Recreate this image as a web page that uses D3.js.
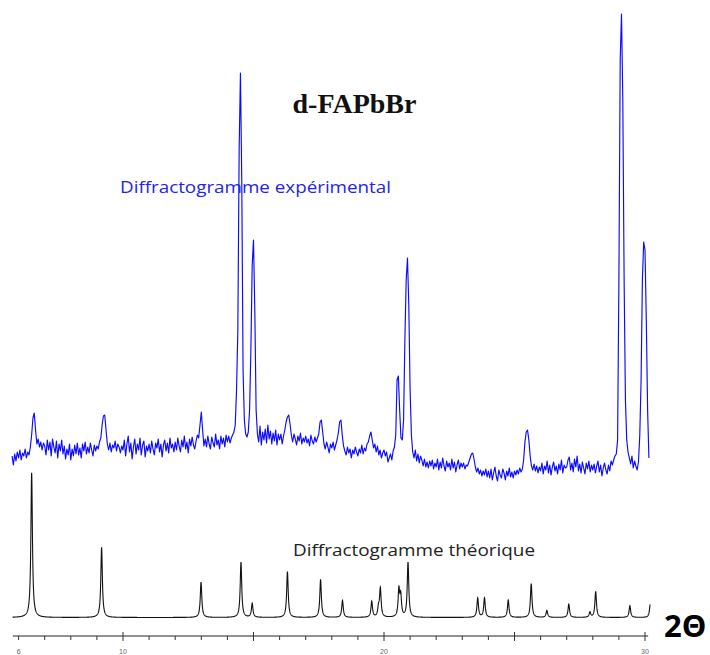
<!DOCTYPE html>
<html><head><meta charset="utf-8">
<script src="https://cdn.jsdelivr.net/npm/d3@7"></script>
<style>html,body{margin:0;padding:0;background:#fff;overflow:hidden}</style>
</head><body><svg id="c" width="710" height="655"></svg>
<script>
// ---------- DATA ----------
// Experimental diffractogram: intensities (a.u.) sampled every 0.05° starting at 5.75° 2θ
const expStart = 5.75, expStep = 0.05;
const expIntensity = [
  24,15,26,19,28,
  22,30,20,27,24,31,22,28,25,33,45,62,67,50,36,41,33,38,30,37,
  34,25,40,30,38,24,41,33,27,39,22,36,29,40,26,34,21,31,25,36,
  20,31,24,35,26,37,25,32,22,36,29,38,26,33,27,37,30,24,35,29,
  34,31,38,42,55,64,65,50,36,30,37,28,35,32,39,29,36,33,27,34,
  30,40,24,36,44,28,37,21,33,41,26,36,30,42,25,35,39,23,34,29,
  36,27,39,31,25,37,32,41,28,36,23,35,40,29,37,27,42,32,36,28,
  38,30,42,34,28,40,33,44,31,38,27,41,34,43,35,31,39,45,42,55,
  68,50,34,41,33,44,36,31,43,37,33,46,35,40,31,44,36,42,33,45,
  38,44,37,42,45,48,55,90,150,330,407,300,110,60,46,43,48,70,130,215,
  240,170,70,46,38,54,35,48,40,51,37,55,41,49,36,47,39,50,35,46,
  40,46,36,44,50,58,63,65,56,45,38,46,41,35,44,39,47,36,42,38,
  44,37,41,34,45,39,36,43,38,42,46,58,60,48,36,31,38,33,27,36,
  32,38,30,35,40,47,58,60,45,34,29,25,33,27,31,22,30,26,33,28,
  24,31,27,35,26,32,29,36,38,44,48,40,32,36,28,34,25,30,22,27,
  30,24,28,18,22,26,20,29,33,45,100,104,70,42,40,60,140,200,222,175,
  90,45,28,22,30,19,26,17,24,20,14,21,13,18,12,19,14,20,11,17,
  13,21,10,18,12,22,14,9,19,13,17,10,21,12,18,8,15,20,11,17,
  13,17,11,15,14,18,22,26,27,21,13,8,12,6,10,4,9,5,11,3,
  9,2,11,0,7,13,4,-1,10,5,2,11,7,0,9,4,12,3,8,2,
  9,5,10,6,12,8,11,20,38,48,50,40,24,14,10,16,9,14,7,13,
  9,17,6,14,10,19,7,15,5,13,18,9,14,6,16,10,20,7,15,12,
  13,20,23,10,17,8,21,13,24,9,16,7,18,12,6,17,11,19,8,15,
  10,16,7,14,19,8,15,4,12,17,10,6,15,9,19,15,20,24,26,40,
  200,420,466,380,200,80,40,28,22,16,24,12,19,14,10,18,45,100,200,238,
  230,160,70,22
];
// Theoretical diffractogram: peak positions (° 2θ) and relative intensities (%)
const thPeakPos = [6.50, 9.18, 12.99, 14.52, 14.95, 16.30, 17.57, 18.41, 19.53, 19.79, 19.86,
                   20.57, 20.64, 20.92, 23.59, 23.85, 24.76, 25.64, 26.24, 27.08, 27.89, 28.11, 29.42, 30.20];
const thPeakInt = [100, 48.4, 24.4, 38.1, 9.6, 31.7, 26.2, 11.7, 11.0, 6.0, 19.6,
                   18.6, 14.0, 37.9, 13.4, 13.4, 12.0, 23.4, 4.8, 9.2, 3.6, 18.0, 8.1, 9.0];
const thRange = [5.77, 30.20];
const thPeakHalfWidth = 0.035;
const axisTicks = d3.range(6, 31);
const majorTicks = [10, 15, 20, 25, 30];
const tickLabels = [6, 10, 20, 30];
const titleText = "d-FAPbBr";
const expLabel = "Diffractogramme expérimental";
const thLabel = "Diffractogramme théorique";
const axisTitle = "2Θ";

// ---------- CHART ----------
const svg = d3.select("#c");
const x = d3.scaleLinear().domain([6, 30]).range([18.6, 645]);
const yExp = d3.scaleLinear().domain([0, 466]).range([480, 14]);
const yTh = d3.scaleLinear().domain([0, 100]).range([617.5, 472.7]);

// experimental
const expData = expIntensity.map((v, i) => [expStart + i * expStep, v]);
svg.append("path")
  .datum(expData)
  .attr("fill", "none")
  .attr("stroke", "#0a0aff")
  .attr("stroke-width", 1.15)
  .attr("stroke-linejoin", "round")
  .attr("d", d3.line().x(d => x(d[0])).y(d => yExp(d[1])));

// theoretical (peak list rendered with narrow Lorentzian profiles)
const thGrid = d3.range(thRange[0], thRange[1] + 1e-9, 0.005);
const thData = thGrid.map(t => {
  let s = 0;
  thPeakPos.forEach((p, k) => { const u = (t - p) / thPeakHalfWidth; s += thPeakInt[k] / (1 + u * u); });
  return [t, s];
});
svg.append("path")
  .datum(thData)
  .attr("fill", "none")
  .attr("stroke", "#111")
  .attr("stroke-width", 1.1)
  .attr("d", d3.line().x(d => x(d[0])).y(d => yTh(d[1])));

// axis
const axisY = 636;
const ax = svg.append("g");
ax.append("line").attr("x1", x(5.78)).attr("x2", x(30.12)).attr("y1", axisY).attr("y2", axisY)
  .attr("stroke", "#222").attr("stroke-width", 1);
ax.selectAll("line.t").data(axisTicks).join("line").attr("class", "t")
  .attr("x1", d => x(d)).attr("x2", d => x(d))
  .attr("y1", d => majorTicks.includes(d) ? axisY - 4 : axisY)
  .attr("y2", d => majorTicks.includes(d) ? axisY + 5 : axisY + 4)
  .attr("stroke", "#333").attr("stroke-width", 1);
ax.selectAll("text").data(tickLabels).join("text")
  .attr("x", d => x(d)).attr("y", 654)
  .attr("text-anchor", "middle")
  .attr("font-family", "Liberation Sans, Arial, sans-serif")
  .attr("font-size", 7).attr("fill", "#666")
  .text(d => d);

// texts
svg.append("text").attr("x", 354.5).attr("y", 113).attr("text-anchor", "middle")
  .attr("font-family", "Liberation Serif, Times New Roman, serif").attr("font-weight", "bold")
  .attr("font-size", 28).attr("fill", "#111").text(titleText);
svg.append("text").attr("x", 120).attr("y", 193)
  .attr("font-family", "Open Sans, Noto Sans, sans-serif").attr("font-size", 17)
  .attr("textLength", 271).attr("lengthAdjust", "spacingAndGlyphs")
  .attr("fill", "#2323ee").text(expLabel);
svg.append("text").attr("x", 293).attr("y", 556)
  .attr("font-family", "Open Sans, Noto Sans, sans-serif").attr("font-size", 17)
  .attr("textLength", 242).attr("lengthAdjust", "spacingAndGlyphs")
  .attr("fill", "#222").text(thLabel);
svg.append("text").attr("x", 664).attr("y", 637)
  .attr("font-family", "Open Sans, Noto Sans, sans-serif").attr("font-weight", "bold")
  .attr("font-size", 31).attr("fill", "#000").text(axisTitle);
</script>
</body></html>
